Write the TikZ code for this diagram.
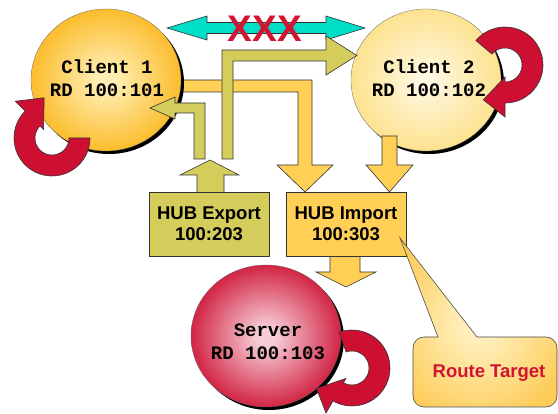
\documentclass[tikz,border=0pt]{standalone}
\usepackage{fontspec}
\setmainfont{Liberation Sans}
\setmonofont{Liberation Mono}
\usetikzlibrary{shapes.geometric}

\definecolor{hubolive}{RGB}{212,205,92}
\definecolor{hubyellow}{RGB}{255,208,85}
\definecolor{linkcyan}{RGB}{0,222,200}
\definecolor{loopred}{RGB}{205,16,50}
\definecolor{xred}{RGB}{210,20,50}
\definecolor{cOneIn}{RGB}{255,238,180}
\definecolor{cOneOut}{RGB}{251,180,20}
\definecolor{cTwoIn}{RGB}{255,247,222}
\definecolor{cTwoOut}{RGB}{252,222,128}
\definecolor{srvIn}{RGB}{248,205,215}
\definecolor{srvOut}{RGB}{204,14,48}
\definecolor{callIn}{RGB}{255,238,185}
\definecolor{callOut}{RGB}{253,205,90}

\pgfdeclareradialshading{clientone}{\pgfpointorigin}{color(0bp)=(cOneIn); color(3bp)=(cOneIn); color(29bp)=(cOneOut); color(100bp)=(cOneOut)}
\pgfdeclareradialshading{clienttwo}{\pgfpointorigin}{color(0bp)=(cTwoIn); color(3bp)=(cTwoIn); color(29bp)=(cTwoOut); color(100bp)=(cTwoOut)}
\pgfdeclareradialshading{server}{\pgfpointorigin}{color(0bp)=(srvIn); color(3bp)=(srvIn); color(28bp)=(srvOut); color(100bp)=(srvOut)}
\pgfdeclareradialshading{callout}{\pgfpointorigin}{color(0bp)=(callIn); color(6bp)=(callIn); color(30bp)=(callOut); color(100bp)=(callOut)}

\tikzset{
  site/.style={ellipse, draw=black!60, line width=0.3pt,
               minimum width=150pt, minimum height=142pt},
  rdtext/.style={font=\ttfamily\bfseries\fontsize{19}{23}\selectfont, align=center},
  hubbox/.style={draw=black!80, line width=0.6pt, minimum width=120pt,
                 minimum height=64pt, align=center,
                 font=\bfseries\fontsize{18.5}{21}\selectfont},
  blockolive/.style={fill=hubolive, draw=black!80, line width=0.6pt},
  blockyellow/.style={fill=hubyellow, draw=black!80, line width=0.6pt},
  loopband/.style={fill=loopred, draw=black!80, line width=0.6pt}
}

% red turning arrow: center x, center y, start, end, tip angle
\newcommand{\redloop}[5]{%
  \draw[loopband] plot[domain=#3:#4, samples=40] ({#1+38*cos(\x)},{#2+38*sin(\x)})
     -- ({#1+52*cos(#4)},{#2+52*sin(#4)})
     -- ({#1+41*cos(#5)},{#2+41*sin(#5)})
     -- ({#1+12*cos(#4)},{#2+12*sin(#4)})
     -- plot[domain=#4:#3, samples=40] ({#1+17*cos(\x)},{#2+17*sin(\x)}) -- cycle;}

\begin{document}
\begin{tikzpicture}[x=1pt,y=-1pt]

\pgfmathsetmacro{\shadowoff}{3}

\fill[white] (0,0) rectangle (558,414);
\useasboundingbox (0,0) rectangle (558,414);

% BLOCKED LINK
\draw[fill=linkcyan, draw=black!80, line width=0.6pt]
  (167,28) -- (207,16) -- (207,22.5) -- (326,22.5) -- (326,16) -- (365,28)
  -- (326,40) -- (326,33.5) -- (207,33.5) -- (207,40) -- cycle;
\node(blocked)[text=xred, font=\bfseries\fontsize{37}{37}\selectfont] at (265,29) {XXX};

% client 1 to import
\draw[blockyellow] (170,80) -- (312,80) -- (312,165) -- (333,165) -- (305,192)
  -- (277,165) -- (298,165) -- (298,92) -- (170,92) -- cycle;

% CLIENTS
\fill[black] (106+\shadowoff,80+\shadowoff) ellipse [x radius=75, y radius=71];
\node(client1)[site, shading=clientone] at (106,80) {};
\fill[black] (426+\shadowoff,80+\shadowoff) ellipse [x radius=75, y radius=71];
\node(client2)[site, shading=clienttwo] at (426,80) {};

% export to client 2
\draw[blockolive] (222,159) -- (222,50) -- (326,50) -- (326,36) -- (357,55.5)
  -- (326,75) -- (326,61) -- (233,61) -- (233,159) -- cycle;
% export to client 1
\draw[blockolive] (205,159) -- (205,103) -- (175,103) -- (175,97) -- (150,108)
  -- (175,119) -- (175,113) -- (194,113) -- (194,159) -- cycle;
% client 2 to import
\draw[blockyellow] (382,136) -- (397,136) -- (397,165) -- (413,165) -- (389.5,192)
  -- (366,165) -- (382,165) -- cycle;

% HUB BOXES
\draw[blockolive] (197,196) -- (197,175) -- (180,175) -- (210,160) -- (239,175)
  -- (224,175) -- (224,196) -- cycle;
\draw[blockyellow] (330,250) -- (330,272) -- (316,272) -- (346,287) -- (376,272)
  -- (360,272) -- (360,250) -- cycle;
\node(hubexport)[hubbox, fill=hubolive] at (209,224) {HUB Export\\100:203};
\node(hubimport)[hubbox, fill=hubyellow] at (346,224) {HUB Import\\100:303};

% SERVER
\fill[black] (266+\shadowoff,336+\shadowoff) ellipse [x radius=75, y radius=71];
\node(server)[site, shading=server] at (266,336) {};

% CALLOUT
\shade[shading=callout, draw=black!70, line width=0.6pt]
  (438,337) -- (400,238) -- (477,337) [rounded corners=11pt] -- (557,337)
  -- (557,407) -- (413,407) -- (413,337) [sharp corners] -- cycle;
\node(routetarget)[text=xred, font=\bfseries\fontsize{18.5}{21}\selectfont] at (489,373) {Route Target};

% LOOPS
\redloop{52}{138}{0}{225}{259}
\redloop{505}{65}{220}{450}{482}
\redloop{352}{368}{250}{480}{510}

% LABELS
\node(client1text)[rdtext] at (107,78.5) {Client 1\\RD 100:101};
\node(client2text)[rdtext] at (429,78.5) {Client 2\\RD 100:102};
\node(servertext)[rdtext] at (268,342) {Server\\RD 100:103};

\end{tikzpicture}
\end{document}
